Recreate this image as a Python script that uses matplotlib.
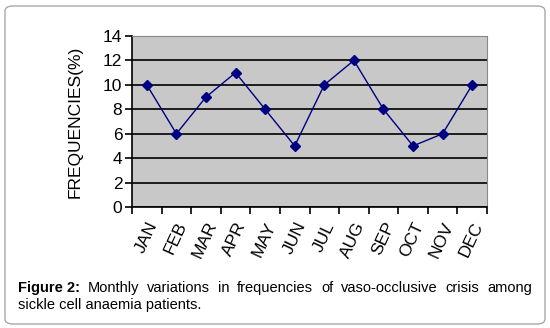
import matplotlib.pyplot as plt
from matplotlib.patches import FancyBboxPatch
from matplotlib.ticker import MultipleLocator

months = ['JAN', 'FEB', 'MAR', 'APR', 'MAY', 'JUN', 'JUL', 'AUG', 'SEP', 'OCT', 'NOV', 'DEC']
freq = [10, 6, 9, 11, 8, 5, 10, 12, 8, 5, 6, 10]
caption_bold = 'Figure 2:'
caption_line1 = 'Monthly variations in frequencies of vaso-occlusive crisis among'
caption_line2 = 'sickle cell anaemia patients.'

plt.rcParams['font.family'] = ['Liberation Sans', 'DejaVu Sans']

fig = plt.figure(figsize=(5.5, 3.28), dpi=100)

# rounded outer frame
fig.patches.append(FancyBboxPatch((5 / 550, 4 / 328), 540 / 550, 318 / 328,
                                  boxstyle='round,pad=0,rounding_size=0.015',
                                  transform=fig.transFigure, fc='none',
                                  ec='#a8a8a8', lw=1.0, zorder=-1))

ax = fig.add_axes([132 / 550, 1 - 207 / 328, 355 / 550, 171 / 328])
ax.set_facecolor('#c8c8c8')
x = list(range(len(months)))
ax.plot(x, freq, color='#000080', lw=1.0, marker='D', ms=5.5, zorder=3)
ax.set_xlim(-0.5, len(months) - 0.5)
ax.set_ylim(0, 14)
ax.yaxis.set_major_locator(MultipleLocator(2))
ax.grid(axis='y', color='black', lw=1.2)
ax.set_axisbelow(True)

ax.set_xticks([i - 0.5 for i in range(len(months) + 1)])
ax.set_xticklabels([])
ax.set_xticks(x, minor=True)
ax.set_xticklabels(months, minor=True, rotation=65, ha='right',
                   rotation_mode='anchor', fontsize=12.5)
ax.tick_params(axis='x', which='minor', length=0, pad=9)
ax.tick_params(axis='x', which='major', length=5, width=1.2, direction='out')
ax.tick_params(axis='y', length=5, width=1.2, labelsize=12.5, pad=2)

for s in ['top', 'right']:
    ax.spines[s].set_color('#888888')
for s in ['left', 'bottom']:
    ax.spines[s].set_color('black')
    ax.spines[s].set_linewidth(1.2)

ax.set_ylabel('FREQUENCIES(%)', fontsize=12.5)
ax.yaxis.set_label_coords(-49 / 355, 0.5)

# caption, first line justified between left and right edges
fs = 10.5
left, right = 18 / 550, 532 / 550
y1, y2 = 1 - 292 / 328, 1 - 309 / 328
fig.canvas.draw()
r = fig.canvas.get_renderer()
words = [(caption_bold, 'bold')] + [(w, 'normal') for w in caption_line1.split()]
arts = [fig.text(0, y1, w, fontsize=fs, weight=wt, va='baseline') for w, wt in words]
widths = [a.get_window_extent(r).width / fig.bbox.width for a in arts]
gap = (right - left - sum(widths)) / (len(arts) - 1)
pos = left
for a, w in zip(arts, widths):
    a.set_x(pos)
    pos += w + gap
fig.text(left, y2, caption_line2, fontsize=fs, va='baseline')

fig.savefig('out.png', dpi=100)
